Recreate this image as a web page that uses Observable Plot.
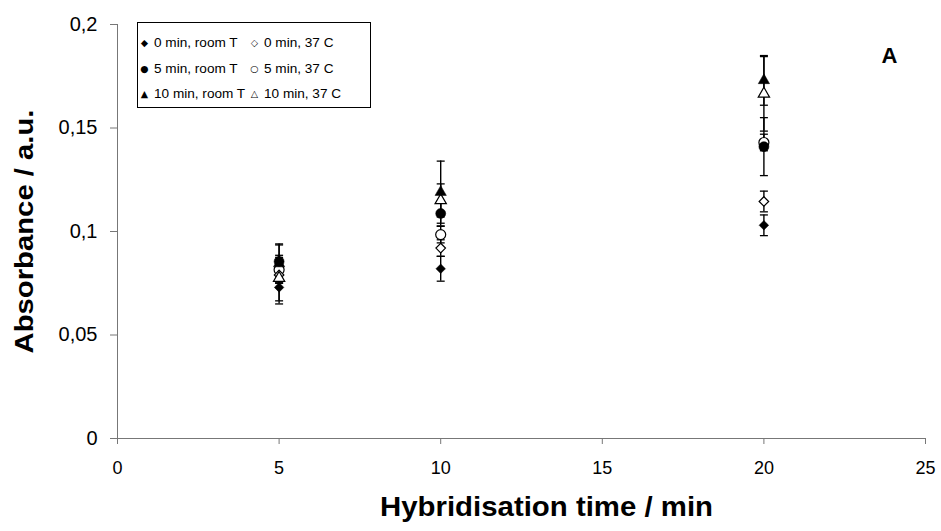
<!DOCTYPE html>
<html><head><meta charset="utf-8">
<script src="https://cdn.jsdelivr.net/npm/d3@7"></script>
<script src="https://cdn.jsdelivr.net/npm/@observablehq/plot@0.6"></script>
<style>
body{margin:0;background:#fff;font-family:"Liberation Sans",Arial,sans-serif;}
#wrap{position:relative;width:941px;height:531px;}
#legend{position:absolute;left:137px;top:22px;width:234px;height:86px;border:1px solid #000;background:#fff;box-sizing:border-box;font-size:13.6px;color:#000;}
.row{position:absolute;white-space:nowrap;line-height:18px;}
.sym{display:inline-block;width:9px;text-align:center;margin-right:5px;font-family:"DejaVu Sans";font-size:9.5px;vertical-align:1px;}
</style></head>
<body><div id="wrap"><div id="chart"></div><div id="legend"></div></div>
<script>
const times = [5, 10, 20];
const seriesNames = ["0 min, room T","0 min, 37 C","5 min, room T","5 min, 37 C","10 min, room T","10 min, 37 C"];
const seriesSymbols = ["diamond2","diamond2","circle","circle","triangle","triangle"];
const seriesFilled = [true,false,true,false,true,false];
const legendGlyphs = ["◆","◇","●","○","▲","△"];
const v0room = [0.073, 0.082, 0.103];
const e0room = [0.008, 0.006, 0.005];
const v037 = [0.079, 0.092, 0.1145];
const e037 = [0.004, 0.004, 0.005];
const v5room = [0.0855, 0.1087, 0.141];
const e5room = [0.008, 0.006, 0.014];
const v537 = [0.0815, 0.0985, 0.143];
const e537 = [0.006, 0.004, 0.004];
const v10room = [0.0845, 0.119, 0.173];
const e10room = [0.0095, 0.015, 0.012];
const v1037 = [0.0775, 0.115, 0.1665];
const e1037 = [0.011, 0.008, 0.018];
const xTicks = [0,5,10,15,20,25];
const yTicks = [0,0.05,0.1,0.15,0.2];
const xTitle = "Hybridisation time / min";
const yTitle = "Absorbance / a.u.";
const panelLabel = "A";

const symbolRadius = {diamond2:4.3, circle:5, triangle:4.2};
const vals = [v0room, v037, v5room, v537, v10room, v1037];
const errs = [e0room, e037, e5room, e537, e10room, e1037];
const rows = [];
seriesNames.forEach((s,i)=>times.forEach((t,j)=>rows.push({
  series:s, x:t, y:vals[i][j], lo:vals[i][j]-errs[i][j], hi:vals[i][j]+errs[i][j],
  symbol:seriesSymbols[i], filled:seriesFilled[i], r:symbolRadius[seriesSymbols[i]]
})));
const caps = rows.flatMap(d=>[{x:d.x,y:d.lo},{x:d.x,y:d.hi}]);
const capSymbol = {draw(ctx, size){const r=4; ctx.moveTo(-r,0); ctx.lineTo(r,0);}};
const fmt = d => String(d).replace(".", ",");
const font = '"Liberation Sans", Arial, sans-serif';

const chart = Plot.plot({
  width:941, height:531,
  marginLeft:117, marginRight:16, marginTop:24, marginBottom:93,
  style:{fontFamily:font, fontSize:"18px", color:"#000", background:"#fff"},
  x:{domain:[0,25]},
  y:{domain:[0,0.2]},
  r:{type:"identity"},
  marks:[
    Plot.axisX({ticks:xTicks, tickSize:6, tickPadding:17, fontSize:18, label:null, stroke:"#777", fill:"#000"}),
    Plot.axisY({ticks:yTicks, tickSize:7, tickPadding:13, fontSize:20, label:null, tickFormat:fmt, stroke:"#777", fill:"#000"}),
    Plot.ruleY([0], {stroke:"#777", strokeWidth:1}),
    Plot.ruleX([0], {stroke:"#777", strokeWidth:1}),
    Plot.ruleX(rows, {x:"x", y1:"lo", y2:"hi", stroke:"#000", strokeWidth:1.4}),
    Plot.dot(caps, {x:"x", y:"y", symbol:()=>capSymbol, stroke:"#000", strokeWidth:1.3, r:4}),
    Plot.dot(rows.filter(d=>!d.filled), {x:"x", y:"y", symbol:"symbol", r:"r", fill:"#fff", stroke:"#000", strokeWidth:1.2}),
    Plot.dot(rows.filter(d=>d.filled), {x:"x", y:"y", symbol:"symbol", r:"r", fill:"#000", stroke:"#000", strokeWidth:0.5}),
    Plot.text([xTitle], {frameAnchor:"bottom", lineAnchor:"middle", textAnchor:"middle", dx:25, dy:69, fontSize:27, fontWeight:"bold", fill:"#000"}),
    Plot.text([yTitle], {frameAnchor:"left", lineAnchor:"middle", textAnchor:"middle", dx:-93, rotate:-90, fontSize:26, fontWeight:"bold", fill:"#000"}),
    Plot.text([panelLabel], {frameAnchor:"top-right", lineAnchor:"middle", textAnchor:"middle", dx:-36, dy:31, fontSize:22, fontWeight:"bold", fill:"#000"})
  ]
});
document.getElementById("chart").appendChild(chart);
// stretch titles to the reference extents
chart.querySelectorAll("text").forEach(t=>{
  if (t.textContent === yTitle) { t.setAttribute("textLength", 244); t.setAttribute("lengthAdjust","spacingAndGlyphs"); }
  if (t.textContent === xTitle) { t.setAttribute("textLength", 333); t.setAttribute("lengthAdjust","spacingAndGlyphs"); }
});

const leg = document.getElementById("legend");
const order = [0,2,4,1,3,5];
order.forEach((si,k)=>{
  const col = k<3?0:1, r = k%3;
  const div = document.createElement("div");
  div.className="row";
  div.style.left = (col===0?2:112)+"px";
  div.style.top = (11+r*25.5)+"px";
  const sp = document.createElement("span"); sp.className="sym"; sp.textContent=legendGlyphs[si];
  div.appendChild(sp);
  div.appendChild(document.createTextNode(seriesNames[si]));
  leg.appendChild(div);
});
</script></body></html>
